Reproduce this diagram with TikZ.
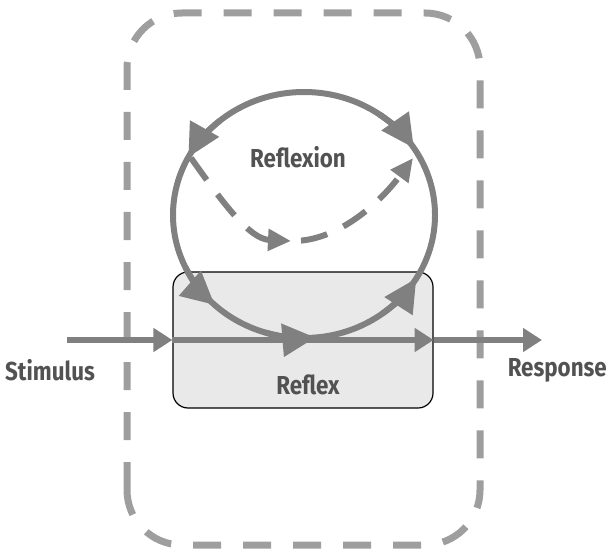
\documentclass[tikz,border=0pt]{standalone}
\usepackage{fontspec}
\setmainfont{Fira Sans}
\usetikzlibrary{arrows.meta}
\definecolor{linegray}{RGB}{128,128,128}
\definecolor{framegray}{RGB}{158,158,158}
\definecolor{textgray}{RGB}{82,82,82}
\definecolor{boxfill}{RGB}{233,233,233}
\tikzset{
  frame/.style={draw=framegray, line width=7pt, rounded corners=55pt, dash pattern=on 28pt off 22pt},
  ln/.style={draw=linegray, line width=6pt},
  bigtip/.style={-{Triangle[length=33pt,width=32pt]}},
  midtip/.style={-{Triangle[length=19pt,width=23pt]}},
  smalltip/.style={-{Triangle[length=23pt,width=21pt]}},
  dashln/.style={ln, dash pattern=on 27pt off 18pt},
  lbl/.style={text=textgray, font=\fontsize{26}{29}\selectfont\bfseries, inner sep=0pt},
  boxstyle/.style={draw=black, line width=1.2pt, fill=boxfill, rounded corners=15pt, minimum width=260pt, minimum height=136pt}
}
\newcommand{\cond}[1]{\scalebox{0.86}[1]{#1}}
\begin{document}
\begin{tikzpicture}[x=1pt,y=1pt]
\useasboundingbox (0,0) rectangle (609,552);
% outer frame
\draw[frame] (127,7) rectangle (480,539);
% reflex box
\node[boxstyle] (reflex) at (303,212) {};
\node[lbl] (reflexlbl) at (308,167) {\cond{Reflex}};
% circle
\coordinate (c) at (304,337);
\draw[ln] (c) ellipse [x radius=131, y radius=123];
\draw[ln,bigtip] (c) ++(130:131 and 123) arc[start angle=130, end angle=152, x radius=131, y radius=123];
\draw[ln,bigtip] (c) ++(55:131 and 123) arc[start angle=55, end angle=33, x radius=131, y radius=123];
\draw[ln,bigtip] (c) ++(205:131 and 123) arc[start angle=205, end angle=227, x radius=131, y radius=123];
\draw[ln,bigtip] (c) ++(253:131 and 123) arc[start angle=253, end angle=275, x radius=131, y radius=123];
\draw[ln,bigtip] (c) ++(307:131 and 123) arc[start angle=307, end angle=329, x radius=131, y radius=123];
% dashed reflexion arrow
\coordinate (ds) at (191,394);
\coordinate (dm) at (291,311);
\coordinate (dm2) at (293,311);
\coordinate (de) at (413,394);
\draw[dashln,smalltip] (ds) .. controls (225,346) and (250,313) .. (dm);
\draw[dashln,smalltip,dash phase=37pt] (dm2) .. controls (340,311) and (382,352) .. (de);
\node[lbl] (reflexion) at (298,395) {\cond{Reflexion}};
% stimulus / response line
\coordinate (start) at (67,212);
\coordinate (end) at (542,212);
\draw[ln,midtip] (start) -- (reflex.west);
\draw[ln,midtip] (reflex.west) -- (reflex.east);
\draw[ln,midtip] (reflex.east) -- (end);
\node[lbl, anchor=west] (stim) at (5,182) {\cond{Stimulus}};
\node[lbl, anchor=east] (resp) at (607,182) {\cond{Response}};
\end{tikzpicture}
\end{document}
